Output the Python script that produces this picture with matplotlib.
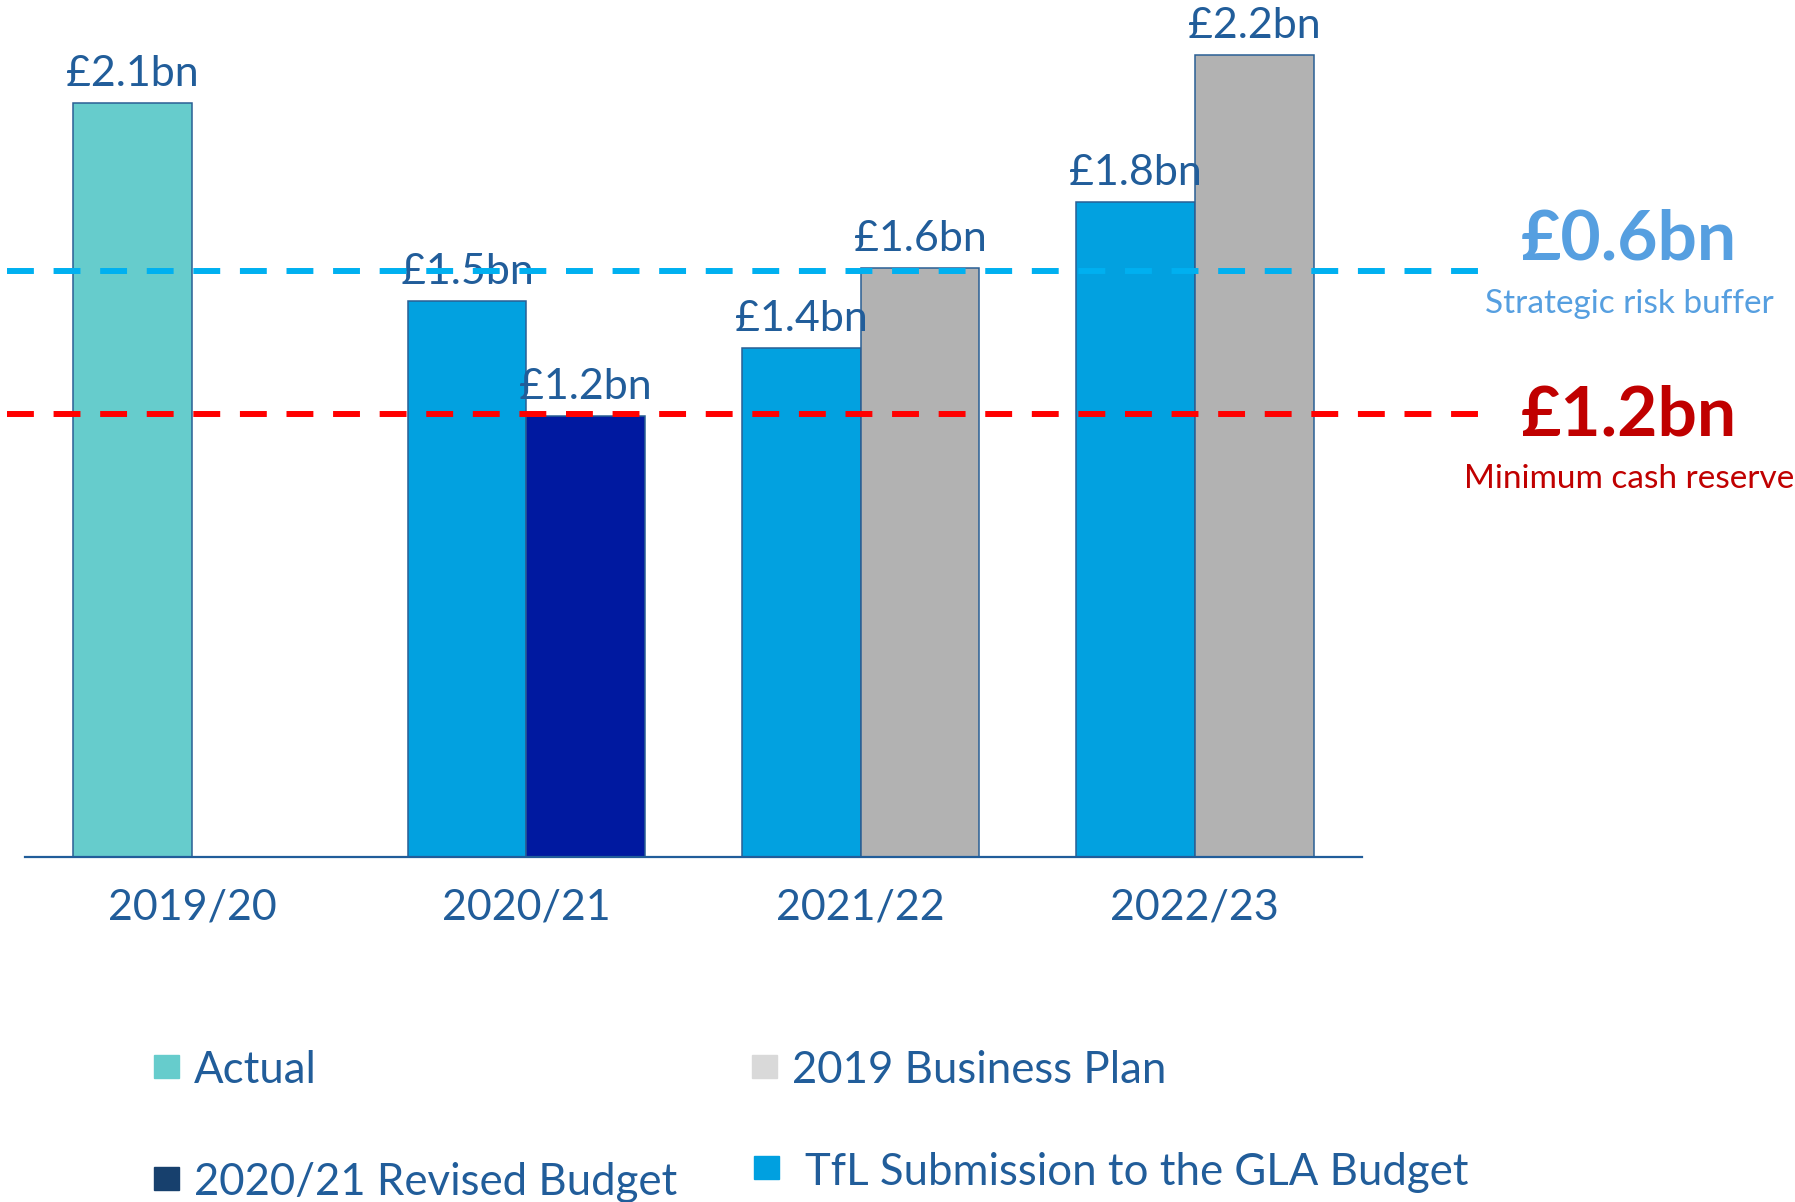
import numpy as np
import matplotlib
matplotlib.use("Agg")
import matplotlib.pyplot as plt
from matplotlib.patches import Rectangle

# values (£bn)
years = ["2019/20", "2020/21", "2021/22", "2022/23"]
actual = [2.06, np.nan, np.nan, np.nan]
tfl_submission = [np.nan, 1.52, 1.39, 1.79]
revised_budget = [np.nan, 1.205, np.nan, np.nan]
business_plan = [np.nan, np.nan, 1.61, 2.19]

risk_buffer_level = 1.60
min_cash_level = 1.21
risk_buffer_label = "£0.6bn"
min_cash_label = "£1.2bn"

legend_labels = ["Actual", "2019 Business Plan", "2020/21 Revised Budget",
                 "TfL Submission to the GLA Budget"]
legend_colors = ["#66cccc", "#d9d9d9", "#17406d", "#00a0e0"]

W, H = 1795, 1202
TEXT = "#215d9a"
EDGE = "#2a5f94"
FONT = "Lato"


def px(x, y):
    # figure pixel (from top-left) -> figure fraction
    return x / W, 1 - y / H


fig = plt.figure(figsize=(W / 100, H / 100), dpi=100)
ax = fig.add_axes([25 / W, 1 - 857 / H, 1337 / W, 857 / H])

x = np.arange(len(years))
bw = 0.355
left = x - bw / 2
right = x + bw / 2

series = [
    (left, actual, "#66cccc"),
    (left, tfl_submission, "#02a1e0"),
    (right, revised_budget, "#0019a0"),
    (right, business_plan, "#b2b2b2"),
]
for pos, vals, col in series:
    vals = np.array(vals, dtype=float)
    ok = ~np.isnan(vals)
    ax.bar(pos[ok], vals[ok], width=bw, color=col, edgecolor=EDGE,
           linewidth=1.1, zorder=2)
    for xp, v in zip(pos[ok], vals[ok]):
        ax.annotate(f"£{v:.1f}bn", (xp, v), xytext=(0, 17),
                    textcoords="offset pixels", ha="center", va="baseline",
                    fontsize=31, color=TEXT, family=FONT, zorder=3,
                    annotation_clip=False)

ax.set_xlim(-0.5, 3.5)
ax.set_ylim(0, 857 / 366)

# reserve lines run past the axes on the right
x0 = (7 - 25) / 1337
x1 = (1482 - 25) / 1337
ax.axhline(risk_buffer_level, x0, x1, color="#00b0f0", lw=4.3,
           dashes=(4.5, 3.3), clip_on=False, zorder=4)
ax.axhline(min_cash_level, x0, x1, color="#ff0000", lw=4.3,
           dashes=(4.5, 3.3), clip_on=False, zorder=4)

for s in ["top", "left", "right"]:
    ax.spines[s].set_visible(False)
ax.spines["bottom"].set_color(TEXT)
ax.spines["bottom"].set_linewidth(1.6)
ax.set_yticks([])
ax.set_xticks(x)
ax.set_xticklabels(years, fontsize=31, color=TEXT, family=FONT)
ax.tick_params(axis="x", length=0, pad=23)

# right-hand annotations
fig.text(*px(1629, 260), risk_buffer_label, ha="center", va="baseline",
         fontsize=50, fontweight="bold", color="#569fe0", family=FONT)
fig.text(*px(1629, 313), "Strategic risk buffer", ha="center", va="baseline",
         fontsize=24, color="#569fe0", family=FONT)
fig.text(*px(1629, 435), min_cash_label, ha="center", va="baseline",
         fontsize=50, fontweight="bold", color="#c00000", family=FONT)
fig.text(*px(1629, 488), "Minimum cash reserve", ha="center", va="baseline",
         fontsize=24, color="#c00000", family=FONT)

# legend laid out by hand, 2x2
legend_pos = [(154, 1055, 194, 1083), (752, 1055, 792, 1083),
              (154, 1167, 194, 1195), (754, 1156, 805, 1185)]
for (sx, sy, tx, ty), lab, col in zip(legend_pos, legend_labels, legend_colors):
    fx, fy = px(sx, sy + 23)
    fig.patches.append(Rectangle((fx, fy), 25 / W, 23 / H, color=col,
                                 transform=fig.transFigure, figure=fig))
    fig.text(*px(tx, ty), lab, ha="left", va="baseline", fontsize=31.5,
             color=TEXT, family=FONT)

fig.savefig("out.png", dpi=100, facecolor="white")
